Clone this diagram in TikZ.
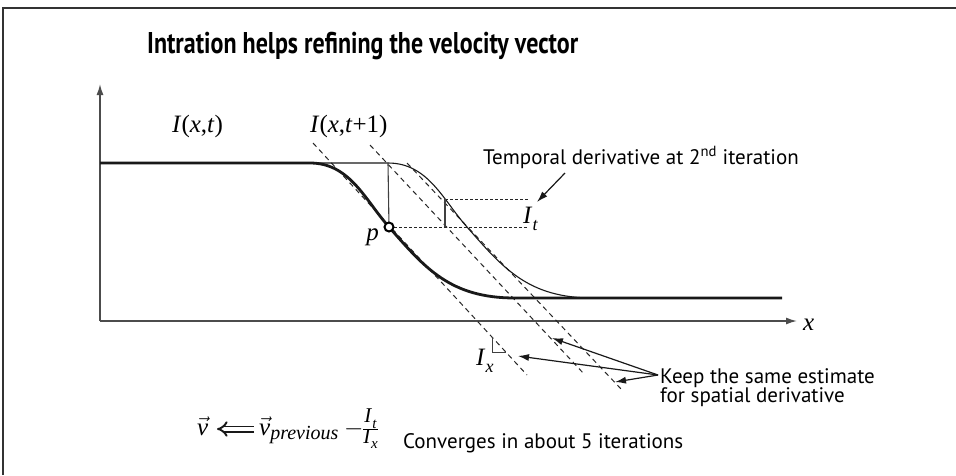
\documentclass[tikz,border=0pt]{standalone}
\usepackage{fontspec}
\setmainfont{Liberation Serif}
\newfontfamily\sansf{PT Sans}
\newfontfamily\titlef[FakeStretch=0.8]{PT Sans}
\usetikzlibrary{arrows.meta}
\newcommand{\mi}[1]{\textit{#1}}
\newcommand{\fs}[1]{\fontsize{#1}{#1}\selectfont}
\newcommand{\vvec}{\vec{\hbox{\mi{v}}}}
\begin{document}
\begin{tikzpicture}[x=1pt,y=-1pt,
  frame/.style={line width=2pt, draw=black!80},
  axis/.style={line width=1.5pt, draw=black!70, -{Latex[length=11pt,width=7pt]}},
  thickline/.style={line width=2.8pt, draw=black!90},
  thinline/.style={line width=1.1pt, draw=black!90},
  guide/.style={line width=1.1pt, draw=black!75},
  dashline/.style={line width=1pt, draw=black!85, dash pattern=on 5pt off 4pt},
  dotline/.style={line width=1pt, draw=black!85, dash pattern=on 3pt off 2pt},
  ptr/.style={line width=1.2pt, draw=black!90, -{Latex[length=11pt,width=7pt]}},
  implies/.style={double=white, double distance=3.2pt, line width=1.9pt, draw=black!90, -{Implies}},
  serif/.style={font=\fs{25}, inner sep=0pt},
  sanstext/.style={font=\sansf\fs{21}, inner sep=0pt},
  titletext/.style={font=\titlef\bfseries\fs{30}, inner sep=0pt},
  pdot/.style={circle, draw=black, fill=white, line width=2pt, minimum size=9pt, inner sep=0pt}
]
\useasboundingbox (0,0) rectangle (956,475);
\fill[white] (0,0) rectangle (956,475);
\draw[frame] (3,475) -- (3,7.5) -- (956,7.5);

\node[titletext, anchor=base west] (title) at (147,53) {Intration helps refining the velocity vector};

% axes
\coordinate (origin) at (100,321);
\coordinate (ytip) at (100,84);
\coordinate (xtip) at (797,321);
\draw[axis] (origin) -- (ytip);
\draw[axis] (origin) -- (xtip);
\node[serif, anchor=base west] (xlab) at (803,330) {\mi{x}};

% dashed gradient lines
\coordinate (l1a) at (313,143); \coordinate (l1b) at (527,375);
\coordinate (l2a) at (370,145); \coordinate (l2b) at (585,375);
\coordinate (l3a) at (407,163); \coordinate (l3b) at (622,390);
\draw[dashline] (l1a) -- (l1b);
\draw[dashline] (l2a) -- (l2b);
\draw[dashline] (l3a) -- (l3b);

% curves
\coordinate (c0) at (100,163);
\coordinate (bend1) at (310,163);
\coordinate (bend2) at (388,163);
\coordinate (t0) at (445,199);
\coordinate (t1) at (445,227);
\draw[thinline] (c0) -- (bend2) .. controls (428,163) and (443,200) .. (467,227) .. controls (503,268) and (528,298) .. (593,298);
\draw[thickline] (c0) -- (bend1) .. controls (350,163) and (365,200) .. (389,227) .. controls (425,268) and (450,298) .. (515,298) -- (782,298);

% temporal derivative construction
\coordinate (te1) at (528,199);
\coordinate (te2) at (528,227);
\draw[dotline] (t0) -- (te1);
\draw[dotline] (389,227) -- (te2);
\draw[guide] (bend2) -- (389,227);
\draw[guide] (t0) -- (t1);
\node[pdot] (p) at (389,227) {};
\node[serif, anchor=base east] (plab) at (379,240) {\mi{p}};

% labels
\node[serif, anchor=base west] (Ixt) at (172,132) {\mi{I}(\mi{x},\mi{t})};
\node[serif, anchor=base west] (Ixt1) at (310,132) {\mi{I}(\mi{x},\mi{t}+1)};
\node[serif, anchor=base west] (It) at (523,223) {\mi{I}\raisebox{-0.28em}{\fs{18}\mi{t}}};
\node[serif, anchor=base west] (Ix) at (476,365) {\mi{I}\raisebox{-0.28em}{\fs{18}\mi{x}}};
\draw[guide, line width=1pt] (492,337) -- (492,352) -- (506,352);

% temporal derivative annotation
\node[sanstext, anchor=base west] (temporal) at (483,164) {Temporal derivative at 2\textsuperscript{nd} iteration};
\coordinate (tstart) at (565,173);
\coordinate (tend) at (537,202);
\draw[ptr] (tstart) -- (tend);

% keep annotation
\node[sanstext, anchor=base west] (keep1) at (660,383) {Keep the same estimate};
\node[sanstext, anchor=base west] (keep2) at (660,402) {for spatial derivative};
\coordinate (kstart) at (658,375);
\coordinate (k1) at (552,338);
\coordinate (k2) at (518,356);
\coordinate (k3) at (615,382);
\draw[ptr] (kstart) -- (k1);
\draw[ptr] (kstart) -- (k2);
\draw[ptr] (kstart) -- (k3);

% formula
\node[serif, anchor=base west] (vA) at (197,435) {$\vvec$};
\node[serif, anchor=base west] (vB) at (259,435) {$\vvec_{\hbox{\fs{20}\mi{previous}}}$};
\coordinate (arrR) at (254,429);
\coordinate (arrL) at (217,429);
\draw[implies] (arrR) -- (arrL);
\node[serif, anchor=base west] (minus) at (344,435) {$-$};
\node[serif, anchor=base west] (frac) at (362,435)
  {$\frac{\hbox{\fs{21}\mi{I}\raisebox{-0.25em}{\fs{15}\mi{t}}}}{\hbox{\fs{21}\mi{I}\raisebox{-0.25em}{\fs{15}\mi{x}}}}$};
\node[sanstext, anchor=base west] (conv) at (403,448) {Converges in about 5 iterations};
\end{tikzpicture}
\end{document}
